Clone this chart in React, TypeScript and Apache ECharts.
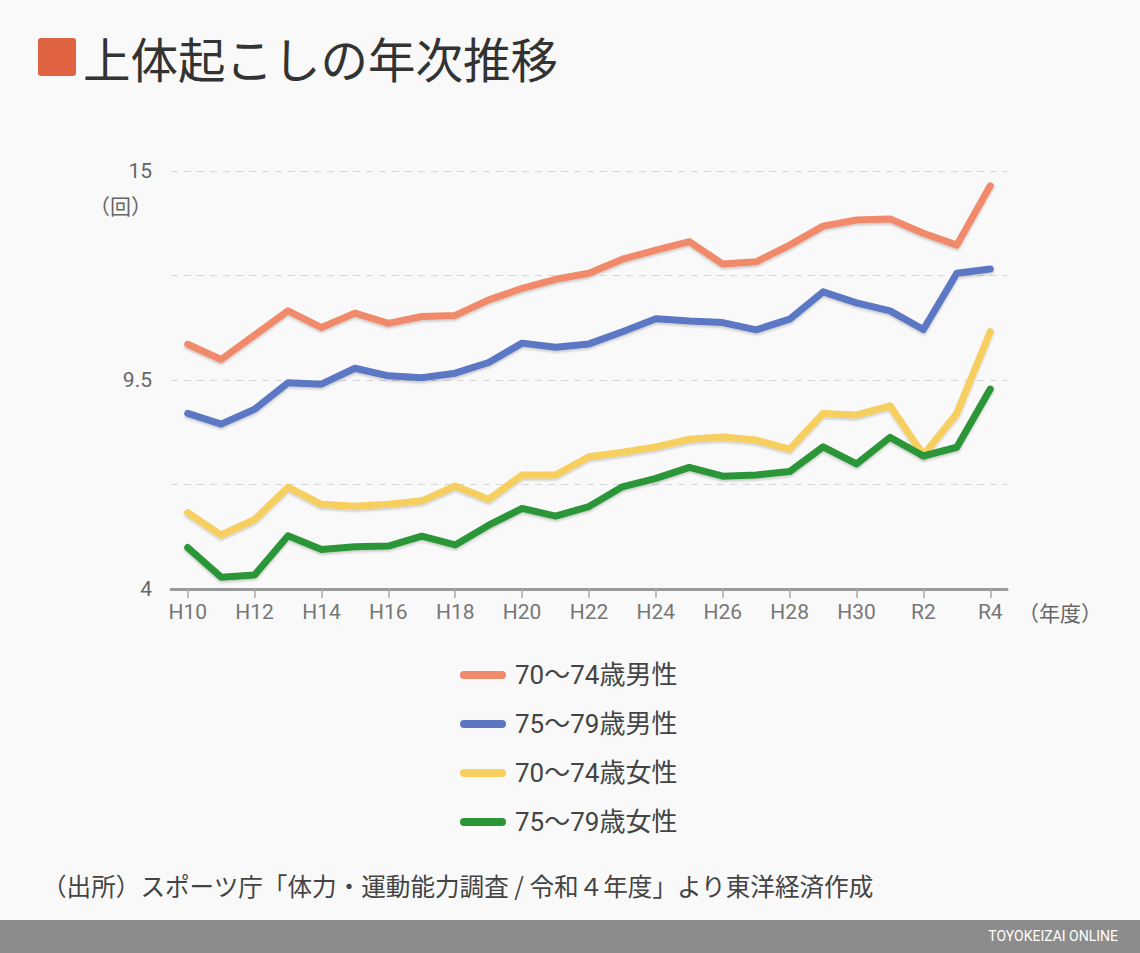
import React, { useEffect, useRef } from "react";
import * as echarts from "echarts";

const categories = [
  "H10", "H11", "H12", "H13", "H14", "H15", "H16", "H17", "H18", "H19",
  "H20", "H21", "H22", "H23", "H24", "H25", "H26", "H27", "H28", "H29",
  "H30", "R1", "R2", "R3", "R4",
];

const seriesNames = ["70〜74歳男性", "75〜79歳男性", "70〜74歳女性", "75〜79歳女性"];

const male7074 = [
  10.44, 10.04, 10.68, 11.32, 10.88, 11.26, 10.99, 11.17, 11.2, 11.61,
  11.91, 12.15, 12.31, 12.68, 12.92, 13.14, 12.55, 12.61, 13.05, 13.55,
  13.71, 13.74, 13.36, 13.05, 14.61,
];
const male7579 = [
  8.62, 8.34, 8.73, 9.43, 9.39, 9.81, 9.61, 9.56, 9.68, 9.96,
  10.47, 10.36, 10.45, 10.77, 11.11, 11.05, 11.01, 10.82, 11.1, 11.82,
  11.53, 11.32, 10.83, 12.31, 12.42,
];
const female7074 = [
  6.01, 5.42, 5.83, 6.68, 6.23, 6.18, 6.23, 6.32, 6.71, 6.36,
  7.0, 7.0, 7.48, 7.6, 7.74, 7.94, 8.0, 7.92, 7.68, 8.62,
  8.58, 8.82, 7.53, 8.62, 10.77,
];
const female7579 = [
  5.09, 4.31, 4.37, 5.4, 5.04, 5.11, 5.13, 5.39, 5.16, 5.68,
  6.12, 5.92, 6.17, 6.69, 6.91, 7.2, 6.97, 7.0, 7.09, 7.74,
  7.29, 7.99, 7.5, 7.73, 9.26,
];

const yTickValues = [4, 6.75, 9.5, 12.25, 15];
const yLabelValues = [4, 9.5, 15];

const colors = ["#F08A6B", "#5B77C3", "#F6CF5F", "#2C9637"];

const FONT = "Roboto, 'Noto Sans CJK JP', sans-serif";

export default function App() {
  const ref = useRef<HTMLDivElement>(null);

  useEffect(() => {
    document.body.style.margin = "0";
    if (!ref.current) return;
    const chart = echarts.init(ref.current, null, { renderer: "svg" });
    const dataSets = [male7074, male7579, female7074, female7579];

    chart.setOption({
      animation: false,
      backgroundColor: "#F9F9F9",
      textStyle: { fontFamily: FONT },
      grid: { left: 171, right: 133, top: 171, bottom: 364 },
      legend: {
        orient: "vertical",
        left: 455,
        top: 657,
        itemWidth: 46,
        itemHeight: 8,
        itemGap: 23,
        icon: "path://M4,0 H42 A4,4 0 0 1 42,8 H4 A4,4 0 0 1 4,0 Z",
        textStyle: { fontSize: 26, color: "#444", fontFamily: FONT, padding: [0, 0, 0, 4] },
        data: seriesNames,
      },
      xAxis: {
        type: "category",
        data: categories,
        boundaryGap: true,
        axisLine: { lineStyle: { color: "#9A9A9A", width: 3 } },
        axisTick: {
          show: true,
          alignWithLabel: true,
          interval: 1,
          length: 9,
          lineStyle: { color: "#AAAAAA", width: 1.5 },
        },
        axisLabel: {
          interval: 1,
          fontSize: 21,
          color: "#777",
          margin: 12,
          fontFamily: FONT,
        },
        splitLine: { show: false },
      },
      yAxis: {
        type: "value",
        min: 4,
        max: 15,
        axisLine: { show: false },
        axisTick: { show: false, customValues: yTickValues },
        axisLabel: {
          customValues: yLabelValues,
          fontSize: 21,
          color: "#666",
          margin: 19,
          fontFamily: FONT,
        },
        splitLine: {
          show: true,
          lineStyle: { color: "#D6D6D6", type: [7, 6], width: 1.2 },
        },
      },
      graphic: [
        {
          type: "rect",
          shape: { x: 38, y: 38, width: 38, height: 38, r: 3 },
          style: { fill: "#DF6341" },
        },
        {
          type: "text",
          x: 83,
          y: 57,
          style: {
            text: "上体起こしの年次推移",
            font: `47.5px 'Noto Sans CJK JP', sans-serif`,
            fill: "#333",
            verticalAlign: "middle",
          },
        },
        {
          type: "text",
          x: 152,
          y: 205,
          style: {
            text: "（回）",
            font: `21px 'Noto Sans CJK JP', sans-serif`,
            fill: "#666",
            align: "right",
            verticalAlign: "middle",
          },
        },
        {
          type: "text",
          x: 1018,
          y: 612,
          style: {
            text: "（年度）",
            font: `21px 'Noto Sans CJK JP', sans-serif`,
            fill: "#666",
            verticalAlign: "middle",
          },
        },
        {
          type: "text",
          x: 42,
          y: 885,
          style: {
            text: "（出所）スポーツ庁「体力・運動能力調査 / 令和４年度」より東洋経済作成",
            font: `24.6px 'Noto Sans CJK JP', sans-serif`,
            fill: "#444",
            verticalAlign: "middle",
          },
        },
        {
          type: "rect",
          shape: { x: 0, y: 920, width: 1140, height: 33 },
          style: { fill: "#8C8C8C" },
        },
        {
          type: "text",
          x: 1118,
          y: 936,
          style: {
            text: "TOYOKEIZAI ONLINE",
            font: `14px Roboto, 'Noto Sans', sans-serif`,
            fill: "#FFFFFF",
            align: "right",
            verticalAlign: "middle",
          },
        },
      ],
      series: seriesNames.map((name, i) => ({
        name,
        type: "line",
        data: dataSets[i],
        symbol: "none",
        color: colors[i],
        z: 2 + i,
        lineStyle: {
          width: 7,
          color: colors[i],
          cap: "round",
          join: "round",
          shadowColor: "rgba(0,0,0,0.18)",
          shadowBlur: 2,
          shadowOffsetY: 2,
        },
      })),
    });

    return () => chart.dispose();
  }, []);

  return <div ref={ref} style={{ width: 1140, height: 953 }} />;
}
